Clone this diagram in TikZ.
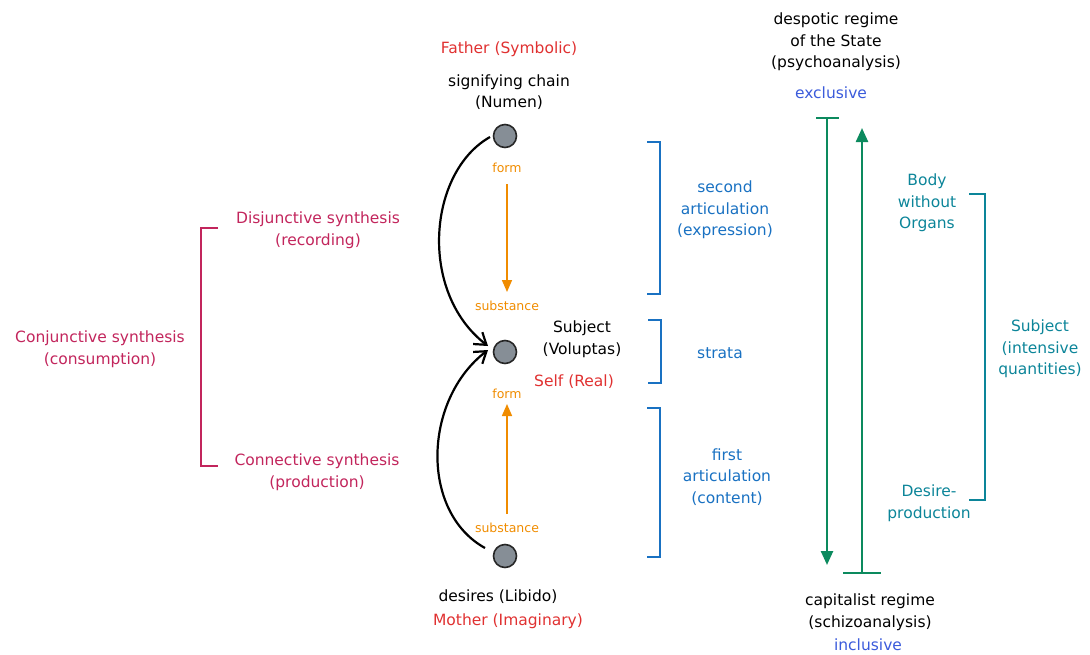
\documentclass[tikz,border=0pt]{standalone}
\usepackage{fontspec}
\setmainfont{DejaVu Sans}
\usetikzlibrary{arrows.meta}
\definecolor{synred}{HTML}{C2255C}
\definecolor{famred}{HTML}{E03131}
\definecolor{formorange}{HTML}{F08C00}
\definecolor{artblue}{HTML}{1971C2}
\definecolor{modeblue}{HTML}{3B5BDB}
\definecolor{regimegreen}{HTML}{0C8A5E}
\definecolor{bwoteal}{HTML}{0C8599}
\definecolor{dotgray}{HTML}{868E96}
\tikzset{
  lbl/.style={inner sep=0pt, align=center, font=\fontsize{15.5}{21.5}\selectfont},
  tiny/.style={inner sep=0pt, align=center, font=\fontsize{12.5}{14}\selectfont, text=formorange},
  dot/.style={circle, draw=black!85, line width=1.6pt, fill=dotgray, minimum size=23pt, inner sep=0pt},
  flow/.style={line width=2.2pt, -{Straight Barb[length=11pt,width=15pt]}},
  stratum/.style={draw=formorange, line width=1.6pt, -{Triangle[length=12pt,width=10pt,fill=formorange]}},
  brk/.style={line width=2pt},
  regime/.style={draw=regimegreen, line width=2.4pt},
}
\begin{document}
\begin{tikzpicture}[x=1pt,y=-1pt]
\useasboundingbox (0,0) rectangle (1090,654);

% the three points of the chain
\node[dot] (top) at (505,136) {};
\node[dot] (mid) at (505,352) {};
\node[dot] (bot) at (505,556) {};

% labels around the points
\node[lbl, text=famred] (father) at (509,49) {Father (Symbolic)};
\node[lbl] (chain) at (509,92) {signifying chain\\(Numen)};
\node[lbl] (subject) at (582,339) {Subject\\(Voluptas)};
\node[lbl, text=famred] (self) at (574,382) {Self (Real)};
\node[lbl] (libido) at (498,597) {desires (Libido)};
\node[lbl, text=famred] (mother) at (508,621) {Mother (Imaginary)};

% form / substance with the strata arrows between them
\node[tiny] (form1) at (507,168) {form};
\node[tiny] (subst1) at (507,306) {substance};
\node[tiny] (form2) at (507,394) {form};
\node[tiny] (subst2) at (507,528) {substance};
\coordinate (s1) at (507,184);
\coordinate (e1) at (507,292);
\coordinate (s2) at (507,514);
\coordinate (e2) at (507,404);
\draw[stratum] (s1) -- (e1);
\draw[stratum] (s2) -- (e2);

% curved connectors into the subject
\coordinate (c1) at (490,137);
\coordinate (c2) at (485,548);
\coordinate (t1) at (488,346);
\coordinate (t2) at (488,350);
\draw[flow] (c1) .. controls (428,172) and (418,292) .. (t1);
\draw[flow] (c2) .. controls (420,512) and (423,400) .. (t2);

% syntheses
\node[lbl, text=synred] (disj) at (318,230) {Disjunctive synthesis\\(recording)};
\node[lbl, text=synred] (conn) at (317,472) {Connective synthesis\\(production)};
\node[lbl, text=synred] (conj) at (100,349) {Conjunctive synthesis\\(consumption)};
\coordinate (sb1) at (218,228);
\coordinate (sb2) at (218,466);
\draw[brk, synred] (sb1) -| (201,466) -- (sb2);

% articulations
\node[lbl, text=artblue] (second) at (725,210) {second\\articulation\\(expression)};
\node[lbl, text=artblue] (strata) at (720,353) {strata};
\node[lbl, text=artblue] (first) at (727,477) {first\\articulation\\(content)};
\draw[brk, artblue] (647,142) -- (660,142) -- (660,294) -- (647,294);
\draw[brk, artblue] (648,320) -- (661,320) -- (661,383) -- (648,383);
\draw[brk, artblue] (647,408) -- (660,408) -- (660,557) -- (647,557);

% regimes
\node[lbl] (despot) at (836,42) {despotic regime\\of the State\\(psychoanalysis)};
\node[lbl, text=modeblue] (excl) at (831,93) {exclusive};
\node[lbl] (capital) at (870,612) {capitalist regime\\(schizoanalysis)};
\node[lbl, text=modeblue] (incl) at (868,645) {inclusive};
\coordinate (dstart) at (827,118);
\coordinate (dend) at (827,565);
\coordinate (ustart) at (862,573);
\coordinate (uend) at (862,128);
\draw[regime] (816,118) -- (839,118);
\draw[regime, -{Triangle[length=14pt,width=12pt]}] (dstart) -- (dend);
\draw[regime] (843,573) -- (881,573);
\draw[regime, -{Triangle[length=14pt,width=12pt]}] (ustart) -- (uend);

% body without organs
\node[lbl, text=bwoteal] (bwo) at (927,203) {Body\\without\\Organs};
\node[lbl, text=bwoteal] (dp) at (929,503) {Desire-\\production};
\node[lbl, text=bwoteal] (intens) at (1040,349) {Subject\\(intensive\\quantities)};
\draw[brk, bwoteal] (969,194) -- (985,194) -- (985,500) -- (969,500);
\end{tikzpicture}
\end{document}
